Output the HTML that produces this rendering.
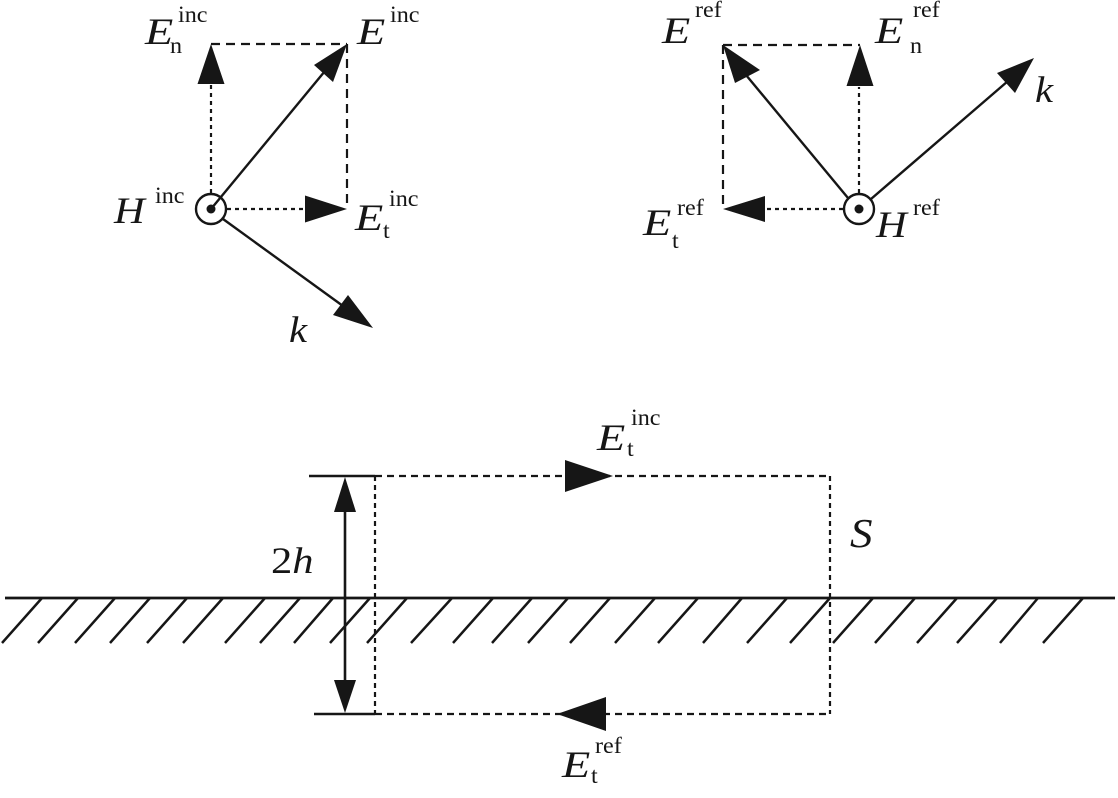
<!DOCTYPE html>
<html><head><meta charset="utf-8"><style>
html,body{margin:0;padding:0;background:#fff;}
svg{display:block;}
.it{font-family:"Liberation Serif",serif;font-style:italic;font-size:37px;fill:#161616;}
.rm{font-family:"Liberation Serif",serif;font-size:23px;fill:#161616;}
.rmb{font-family:"Liberation Serif",serif;font-size:37px;fill:#161616;}
</style></head><body>
<svg width="1118" height="798" viewBox="0 0 1118 798" xmlns="http://www.w3.org/2000/svg">
<g stroke="#161616" fill="none" stroke-width="2.2">
  <line x1="211" y1="44" x2="347" y2="44" stroke-dasharray="9,6"/>
  <line x1="347" y1="44" x2="347" y2="209" stroke-dasharray="9,6"/>
  <line x1="211" y1="193" x2="211" y2="84" stroke-dasharray="4,4"/>
  <line x1="227" y1="209" x2="306" y2="209" stroke-dasharray="4,4"/>
  <line x1="211" y1="209" x2="325" y2="71" stroke-width="2.4"/>
  <line x1="223" y1="219" x2="343" y2="306" stroke-width="2.4"/>
  <circle cx="211" cy="209" r="15" stroke-width="2.4"/>
  <line x1="723" y1="45" x2="860" y2="45" stroke-dasharray="9,6"/>
  <line x1="723" y1="45" x2="723" y2="209" stroke-dasharray="9,6"/>
  <line x1="859" y1="193" x2="859" y2="87" stroke-dasharray="4,4"/>
  <line x1="843" y1="209" x2="764" y2="209" stroke-dasharray="4,4"/>
  <line x1="848" y1="198" x2="746" y2="75" stroke-width="2.4"/>
  <line x1="871" y1="199" x2="1008" y2="81" stroke-width="2.4"/>
  <circle cx="859" cy="209" r="15" stroke-width="2.4"/>
  <line x1="5" y1="598" x2="1115" y2="598" stroke-width="2.8"/>
  <line x1="309" y1="476" x2="375" y2="476" stroke-width="2.6"/>
  <line x1="314" y1="714" x2="375" y2="714" stroke-width="2.6"/>
  <line x1="345" y1="505" x2="345" y2="688" stroke-width="2.6"/>
  <line x1="375" y1="476" x2="375" y2="714" stroke-dasharray="5,4"/>
  <line x1="830" y1="476" x2="830" y2="714" stroke-dasharray="5,4"/>
  <line x1="375" y1="476" x2="830" y2="476" stroke-dasharray="7,5"/>
  <line x1="375" y1="714" x2="830" y2="714" stroke-dasharray="7,5"/>
</g>
<g stroke="#161616" stroke-width="2.5" fill="none">
  <line x1="42" y1="598" x2="2" y2="643"/>
  <line x1="78" y1="598" x2="38" y2="643"/>
  <line x1="115" y1="598" x2="75" y2="643"/>
  <line x1="150" y1="598" x2="110" y2="643"/>
  <line x1="187" y1="598" x2="147" y2="643"/>
  <line x1="223" y1="598" x2="183" y2="643"/>
  <line x1="265" y1="598" x2="225" y2="643"/>
  <line x1="300" y1="598" x2="260" y2="643"/>
  <line x1="333" y1="598" x2="294" y2="643"/>
  <line x1="370" y1="598" x2="330" y2="643"/>
  <line x1="407" y1="598" x2="367" y2="643"/>
  <line x1="452" y1="598" x2="411" y2="643"/>
  <line x1="493" y1="598" x2="453" y2="643"/>
  <line x1="532" y1="598" x2="492" y2="643"/>
  <line x1="568" y1="598" x2="528" y2="643"/>
  <line x1="610" y1="598" x2="570" y2="643"/>
  <line x1="655" y1="598" x2="615" y2="643"/>
  <line x1="698" y1="598" x2="658" y2="643"/>
  <line x1="742" y1="598" x2="703" y2="643"/>
  <line x1="787" y1="598" x2="747" y2="643"/>
  <line x1="830" y1="598" x2="790" y2="643"/>
  <line x1="873" y1="598" x2="833" y2="643"/>
  <line x1="915" y1="598" x2="875" y2="643"/>
  <line x1="957" y1="598" x2="917" y2="643"/>
  <line x1="997" y1="598" x2="957" y2="643"/>
  <line x1="1038" y1="598" x2="1000" y2="643"/>
  <line x1="1083" y1="598" x2="1043" y2="643"/>
</g>
<g fill="#161616" stroke="none">
  <circle cx="211" cy="209" r="4.5"/>
  <polygon points="211,44 197.5,84 224.5,84"/>
  <polygon points="347,209 305,195.5 305,222.5"/>
  <polygon points="347,44 314,65 333,82"/>
  <polygon points="373,328 333,315 348,295"/>
  <circle cx="859" cy="209" r="4.5"/>
  <polygon points="860,45 846.5,86 873.5,86"/>
  <polygon points="723,209 765,196 765,222"/>
  <polygon points="723,45 735,83 760,70"/>
  <polygon points="1034,58 997,73 1015,93"/>
  <polygon points="345,477 334,512 356,512"/>
  <polygon points="345,713 334,680 356,680"/>
  <polygon points="613,476 565,460 565,492"/>
  <polygon points="557,714 606,697 606,731"/>
</g>
<text class="it" transform="matrix(1.25,0,0,1,145,44)">E</text>
<text class="rm" transform="matrix(1.05,0,0,1,170,53)">n</text>
<text class="rm" transform="matrix(1.05,0,0,1,178,22)">inc</text>

<text class="it" transform="matrix(1.25,0,0,1,357,44)">E</text>
<text class="rm" transform="matrix(1.05,0,0,1,390,22)">inc</text>

<text class="it" transform="matrix(1.15,0,0,1,114,223)">H</text>
<text class="rm" transform="matrix(1.05,0,0,1,155,203)">inc</text>

<text class="it" transform="matrix(1.25,0,0,1,355,230)">E</text>
<text class="rm" transform="matrix(1.05,0,0,1,383,238)">t</text>
<text class="rm" transform="matrix(1.05,0,0,1,389,206)">inc</text>

<text class="it" transform="matrix(1.1,0,0,1,289,342)">k</text>

<text class="it" transform="matrix(1.25,0,0,1,662,43)">E</text>
<text class="rm" transform="matrix(1.05,0,0,1,695,17)">ref</text>

<text class="it" transform="matrix(1.25,0,0,1,875,43)">E</text>
<text class="rm" transform="matrix(1.05,0,0,1,910,53)">n</text>
<text class="rm" transform="matrix(1.05,0,0,1,913,17)">ref</text>

<text class="it" transform="matrix(1.1,0,0,1,1035,102)">k</text>

<text class="it" transform="matrix(1.25,0,0,1,643,235)">E</text>
<text class="rm" transform="matrix(1.05,0,0,1,672,248)">t</text>
<text class="rm" transform="matrix(1.05,0,0,1,677,215)">ref</text>

<text class="it" transform="matrix(1.15,0,0,1,876,237)">H</text>
<text class="rm" transform="matrix(1.05,0,0,1,913,215)">ref</text>

<text class="it" transform="matrix(1.25,0,0,1,597,450)">E</text>
<text class="rm" transform="matrix(1.05,0,0,1,627,456)">t</text>
<text class="rm" transform="matrix(1.05,0,0,1,631,425)">inc</text>

<text class="it" style="font-size:41px" transform="matrix(1.1,0,0,1,850,547)">S</text>

<text transform="matrix(1.15,0,0,1,271,573)"><tspan class="rmb">2</tspan><tspan class="it">h</tspan></text>

<text class="it" transform="matrix(1.25,0,0,1,562,777)">E</text>
<text class="rm" transform="matrix(1.05,0,0,1,591,783)">t</text>
<text class="rm" transform="matrix(1.05,0,0,1,595,753)">ref</text>
</svg>
</body></html>
